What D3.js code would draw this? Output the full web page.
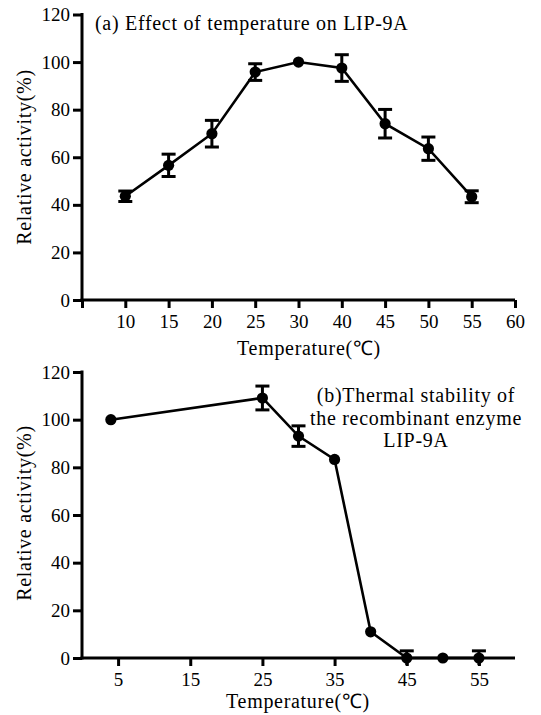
<!DOCTYPE html>
<html>
<head>
<meta charset="utf-8">
<script src="https://cdn.jsdelivr.net/npm/d3@7"></script>
<style>
  body { margin: 0; background: #fff; }
  svg { display: block; }
  .axis path, .axis line { stroke: #000; stroke-width: 3; }
</style>
</head>
<body>
<div id="chart"></div>
<script>
// panel (a): effect of temperature
var tempA = ["10", "15", "20", "25", "30", "40", "45", "50", "55"];
var actA = [43.6, 56.6, 69.9, 95.8, 100, 97.5, 74.1, 63.6, 43.4];
var errA = [2.2, 4.7, 5.6, 3.5, 0, 5.6, 6, 4.9, 2.5];
var tickLabelsA = ["10", "15", "20", "25", "30", "40", "45", "50", "55", "60"];

// panel (b): thermal stability
var tempB = [4, 25, 30, 35, 40, 45, 50, 55];
var actB = [100, 109.1, 93.1, 83.3, 11, 0, 0, 0];
var errB = [0, 5, 4.3, 0, 0, 3, 0, 3];
var tickLabelsB = [5, 15, 25, 35, 45, 55];

var yTicks = [0, 20, 40, 60, 80, 100, 120];

var svgWidth = 541;
var svgHeight = 715;
var serif = "'Liberation Serif'";

var svg = d3.select("#chart")
    .append("svg")
    .attr("width", svgWidth)
    .attr("height", svgHeight);

function drawPanel(opts) {
    var g = svg.append("g");

    // x axis
    var xAxis = d3.axisBottom(opts.x)
        .tickValues(opts.xTickValues)
        .tickFormat(opts.xTickFormat)
        .tickSizeOuter(0)
        .tickSizeInner(8)
        .tickPadding(7);
    var xg = g.append("g")
        .attr("class", "axis")
        .attr("transform", `translate(0,${opts.y(0)})`)
        .call(xAxis);
    xg.select(".domain").attr("d", `M${opts.x.range()[0] - 1.5},0H${opts.x.range()[1]}`);

    // y axis
    var yAxis = d3.axisLeft(opts.y)
        .tickValues(yTicks)
        .tickSizeOuter(0)
        .tickSizeInner(9)
        .tickPadding(3);
    var yg = g.append("g")
        .attr("class", "axis")
        .attr("transform", `translate(${opts.x.range()[0]},0)`)
        .call(yAxis);
    yg.select(".domain").attr("d", `M0,${opts.y(120) - 1.5}V${opts.y(0) + 1.5}`);

    g.selectAll(".axis text")
        .style("font-family", serif)
        .style("font-size", "19px")
        .attr("fill", "#000");

    var pts = opts.values.map(function(v, i) {
        return { x: opts.xs[i], v: v, e: opts.errs[i] };
    });

    // line
    var line = d3.line()
        .x(d => opts.xPos(d.x))
        .y(d => opts.y(d.v));
    g.append("path")
        .datum(pts)
        .attr("d", line)
        .attr("fill", "none")
        .attr("stroke", "#000")
        .attr("stroke-width", 2.6);

    // error bars
    var eb = g.append("g")
        .selectAll("g")
        .data(pts.filter(d => d.e > 0))
        .enter()
        .append("g");
    eb.append("line")
        .attr("x1", d => opts.xPos(d.x))
        .attr("x2", d => opts.xPos(d.x))
        .attr("y1", d => opts.y(d.v + d.e))
        .attr("y2", d => opts.y(d.v - d.e))
        .attr("stroke", "#000")
        .attr("stroke-width", 3);
    eb.append("line")
        .attr("x1", d => opts.xPos(d.x) - 7)
        .attr("x2", d => opts.xPos(d.x) + 7)
        .attr("y1", d => opts.y(d.v + d.e))
        .attr("y2", d => opts.y(d.v + d.e))
        .attr("stroke", "#000")
        .attr("stroke-width", 3);
    eb.filter(d => d.v - d.e > 0)
        .append("line")
        .attr("x1", d => opts.xPos(d.x) - 7)
        .attr("x2", d => opts.xPos(d.x) + 7)
        .attr("y1", d => opts.y(d.v - d.e))
        .attr("y2", d => opts.y(d.v - d.e))
        .attr("stroke", "#000")
        .attr("stroke-width", 3);

    // markers
    g.append("g")
        .selectAll("circle")
        .data(pts)
        .enter()
        .append("circle")
        .attr("cx", d => opts.xPos(d.x))
        .attr("cy", d => opts.y(d.v))
        .attr("r", 5.6)
        .attr("fill", "#000");

    // axis titles
    g.append("text")
        .attr("class", "label")
        .attr("x", opts.xTitlePos[0])
        .attr("y", opts.xTitlePos[1])
        .attr("text-anchor", "middle")
        .text("Temperature(℃)");

    g.append("text")
        .attr("class", "label")
        .attr("transform", `translate(${opts.yTitlePos[0]},${opts.yTitlePos[1]}) rotate(-90)`)
        .attr("text-anchor", "middle")
        .text("Relative activity(%)");

    // panel caption
    var cap = g.append("text")
        .attr("class", "label")
        .attr("text-anchor", opts.capAnchor);
    opts.caption.forEach(function(t, i) {
        cap.append("tspan")
            .attr("x", opts.capPos[0])
            .attr("y", opts.capPos[1] + i * 22.5)
            .text(t);
    });

    g.selectAll(".label")
        .style("font-family", serif)
        .style("font-size", "20px")
        .style("letter-spacing", "0.7px")
        .attr("fill", "#000");
}

// panel a
var xA = d3.scaleLinear().domain([0, 10]).range([82, 515]);
var yA = d3.scaleLinear().domain([0, 120]).range([300, 14.5]);
drawPanel({
    x: xA,
    y: yA,
    xTickValues: d3.range(0, 11),
    xTickFormat: i => (i === 0 ? "" : tickLabelsA[i - 1]),
    xs: tempA.map((t, i) => i + 1),
    xPos: i => xA(i),
    values: actA,
    errs: errA,
    xTitlePos: [309, 355],
    yTitlePos: [31, 157],
    caption: ["(a) Effect of temperature on LIP-9A"],
    capAnchor: "start",
    capPos: [95, 30]
});

// panel b
var xB = d3.scaleLinear().domain([0, 60]).range([82, 515]);
var yB = d3.scaleLinear().domain([0, 120]).range([658, 372]);
drawPanel({
    x: xB,
    y: yB,
    xTickValues: tickLabelsB,
    xTickFormat: d => d,
    xs: tempB,
    xPos: t => xB(t),
    values: actB,
    errs: errB,
    xTitlePos: [298, 708],
    yTitlePos: [31, 513],
    caption: ["(b)Thermal stability of", "the recombinant enzyme", "LIP-9A"],
    capAnchor: "middle",
    capPos: [416, 402]
});
</script>
</body>
</html>
